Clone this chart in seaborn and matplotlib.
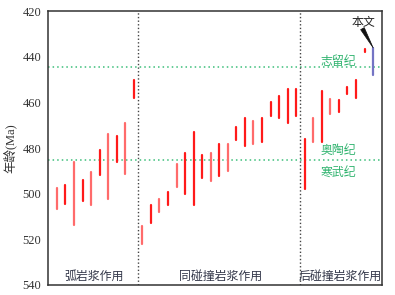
import numpy as np
import pandas as pd
import seaborn as sns
from matplotlib import pyplot as plt

# age ranges (Ma), left to right
age_young = [497.3, 496.1, 486.2, 494.0, 490.6, 481.0, 473.9, 474.7, 469.0, 450.1,
             514.0, 505.0, 502.2, 499.2, 487.1, 482.1, 473.0, 483.1, 482.1, 478.2,
             478.2, 470.7, 466.9, 468.1, 466.9, 459.9, 457.1, 454.2, 454.2,
             476.1, 466.9, 454.9, 458.3, 459.0, 453.3, 450.1, 436.7, 436.2]
age_old = [506.7, 504.3, 513.8, 503.2, 504.9, 491.8, 502.3, 486.1, 491.2, 458.0,
           521.9, 513.0, 508.0, 505.0, 497.2, 500.0, 505.0, 493.1, 494.3, 492.1,
           490.0, 476.3, 479.0, 478.2, 477.2, 466.0, 466.9, 469.0, 466.0,
           498.0, 477.2, 477.2, 465.0, 464.0, 456.4, 458.0, 438.0, 447.8]
tone = ['pink', 'red', 'pink', 'red', 'pink', 'red', 'pink', 'red', 'pink', 'red',
        'pink', 'red', 'pink', 'red', 'pink', 'red', 'red', 'red', 'pink', 'red',
        'pink', 'red', 'red', 'pink', 'red', 'red', 'red', 'red', 'red',
        'red', 'pink', 'red', 'pink', 'red', 'red', 'red', 'red', 'this']

group_names = ['弧岩浆作用', '同碰撞岩浆作用', '后碰撞岩浆作用']
group_centres = [5.35, 20.2, 34.1]
group_breaks = [10.5, 29.5]

period_names = ['志留纪', '奥陶纪', '寒武纪']
period_ages = [442.1, 481.2, 490.6]
period_bounds = [444.5, 485.4]

palette = {'red': '#ff1a1a', 'pink': '#ff6b6b', 'this': '#7474c4'}
cjk = ['Noto Sans CJK SC', 'DejaVu Sans']
serif = ['Liberation Serif', 'Noto Sans CJK SC']

# long form: two rows per sample so each sample becomes one vertical segment
pos = np.arange(1, len(age_young) + 1)
df = pd.DataFrame({'pos': np.concatenate([pos, pos]),
                   'age': age_young + age_old,
                   'tone': tone + tone})

sns.set_style('white')
plt.rcParams['font.family'] = cjk

fig = plt.figure(figsize=(3.95, 2.95), dpi=100)
ax = fig.add_axes([0.1223, 0.0339, 0.8440, 0.9278])

sns.lineplot(data=df, x='pos', y='age', units='pos', estimator=None,
             hue='tone', palette=palette, legend=False, linewidth=1.6, ax=ax)

for b in period_bounds:
    ax.axhline(b, color='#3cbf7a', lw=1.1, ls=(0, (1, 2)), zorder=1)
for b in group_breaks:
    ax.axvline(b, color='#444444', lw=1.0, ls=(0, (1, 1.6)), zorder=1)

for name, x in zip(group_names, group_centres):
    ax.text(x, 536, name, ha='center', va='center', fontsize=8.6,
            color='#34384a', family=cjk)
for name, y in zip(period_names, period_ages):
    ax.text(33.95, y, name, ha='center', va='center', fontsize=8.6,
            color='#2fb36e', family=cjk)

# label for this study, with a tapering pointer down to its age bar
ax.text(36.85, 424.9, '本文', ha='center', va='center', fontsize=8.6,
        family=cjk, color='#222222')
ax.annotate('', xy=(38, 436.0), xytext=(36.75, 427.6),
            arrowprops=dict(arrowstyle='wedge,tail_width=0.3', fc='#111111',
                            ec='#111111', lw=0.5, shrinkA=0, shrinkB=0))

ax.set_xlim(0, 39)
ax.set_ylim(540, 420)
ax.set_yticks(np.arange(420, 541, 20))
ax.set_xticks([])
ax.set_xlabel('')
ax.set_ylabel('年龄(Ma)', family=serif, fontsize=9, color='#333333', labelpad=4)
ax.tick_params(axis='y', direction='out', length=3, width=0.8, pad=2,
               labelsize=9, colors='#333333')
for lab in ax.get_yticklabels():
    lab.set_family(serif)
for s in ax.spines.values():
    s.set_color('#333333')
    s.set_linewidth(1.1)

fig.savefig('out.png', dpi=100)
